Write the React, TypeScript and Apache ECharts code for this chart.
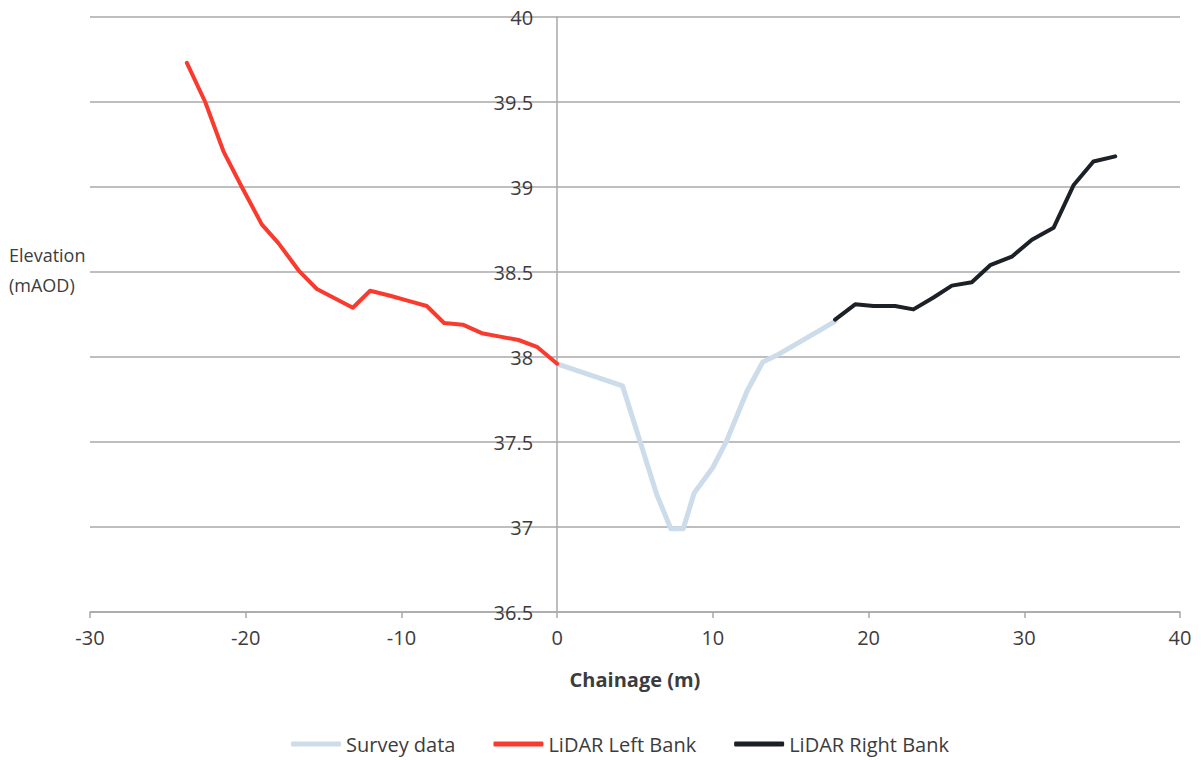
import React, { useEffect, useRef } from "react";
import * as echarts from "echarts";

// Cross-section elevations (chainage in m, elevation in mAOD)
const surveyChainage = [0, 4.2, 5.3, 6.4, 7.3, 8.1, 8.8, 10.0, 10.9, 12.2, 13.2, 14.1, 17.85];
const surveyElevation = [37.96, 37.83, 37.51, 37.19, 36.99, 36.99, 37.2, 37.35, 37.51, 37.8, 37.97, 38.01, 38.21];

const leftChainage = [-23.78, -22.6, -21.43, -20.25, -18.97, -17.9, -16.61, -15.43, -13.12, -12.01, -10.72, -9.55, -8.37, -7.26, -6.06, -4.84, -3.66, -2.48, -1.3, 0];
const leftElevation = [39.73, 39.5, 39.21, 39.0, 38.78, 38.67, 38.51, 38.4, 38.29, 38.39, 38.36, 38.33, 38.3, 38.2, 38.19, 38.14, 38.12, 38.1, 38.06, 37.96];

const rightChainage = [17.85, 19.14, 20.31, 21.7, 22.88, 24.17, 25.35, 26.63, 27.81, 29.2, 30.49, 31.88, 33.16, 34.44, 35.84];
const rightElevation = [38.22, 38.31, 38.3, 38.3, 38.28, 38.35, 38.42, 38.44, 38.54, 38.59, 38.69, 38.76, 39.01, 39.15, 39.18];

const seriesNames = ["Survey data", "LiDAR Left Bank", "LiDAR Right Bank"];
const seriesColors = ["#cddcea", "#f93b2f", "#1c2127"];

const xTitle = "Chainage (m)";
const yTitle = "Elevation\n(mAOD)";

const X_MIN = -30;
const X_MAX = 40;

const pairs = (xs: number[], ys: number[]) => xs.map((x, i) => [x, ys[i]]);

const FONT = "'Open Sans', sans-serif";
const TEXT = "#3c3c3c";
const GRID = "#a8a8a8";

const GRID_LEFT = 90;
const GRID_RIGHT = 21;
const WIDTH = 1201;

export default function App() {
  const ref = useRef<HTMLDivElement>(null);

  useEffect(() => {
    if (!ref.current) return;
    const chart = echarts.init(ref.current, undefined, { renderer: "svg" });
    const data = [
      pairs(surveyChainage, surveyElevation),
      pairs(leftChainage, leftElevation),
      pairs(rightChainage, rightElevation),
    ];
    const widths = [5, 4, 4];
    // shift the vertical axis so it crosses at chainage 0
    const plotW = WIDTH - GRID_LEFT - GRID_RIGHT;
    const zeroOffset = ((0 - X_MIN) / (X_MAX - X_MIN)) * plotW;
    chart.setOption({
      animation: false,
      backgroundColor: "#ffffff",
      textStyle: { fontFamily: FONT },
      grid: { left: GRID_LEFT, right: GRID_RIGHT, top: 17, bottom: 148, containLabel: false },
      xAxis: {
        type: "value",
        min: X_MIN,
        max: X_MAX,
        interval: 10,
        name: xTitle,
        nameLocation: "middle",
        nameGap: 57,
        nameTextStyle: { fontFamily: FONT, fontSize: 20, fontWeight: "bold", color: TEXT },
        axisLine: { onZero: false, lineStyle: { color: GRID, width: 1.5 } },
        axisTick: { show: true, length: 6, lineStyle: { color: GRID, width: 1.5 } },
        axisLabel: { margin: 15, fontFamily: FONT, fontSize: 20, color: TEXT },
        splitLine: { show: false },
      },
      yAxis: {
        type: "value",
        position: "left",
        offset: -zeroOffset,
        min: 36.5,
        max: 40,
        interval: 0.5,
        axisLine: { show: true, onZero: false, lineStyle: { color: GRID, width: 1.5 } },
        axisTick: { show: false },
        axisLabel: { margin: 24, fontFamily: FONT, fontSize: 20, color: TEXT },
        splitLine: { show: true, lineStyle: { color: GRID, width: 1.5 } },
      },
      legend: {
        left: 286,
        top: 727,
        padding: 5,
        icon: "roundRect",
        itemWidth: 50,
        itemHeight: 5,
        itemGap: 38,
        data: seriesNames,
        textStyle: { fontFamily: FONT, fontSize: 20, lineHeight: 24, color: TEXT },
      },
      graphic: [
        {
          type: "text",
          left: 9,
          top: 240,
          style: {
            text: yTitle,
            font: `18px ${FONT}`,
            fill: TEXT,
            lineHeight: 30,
          },
        },
      ],
      series: seriesNames.map((name, i) => ({
        name,
        type: "line",
        data: data[i],
        showSymbol: false,
        symbol: "none",
        color: seriesColors[i],
        lineStyle: { color: seriesColors[i], width: widths[i], cap: "round", join: "round" },
        z: 2 + i,
      })),
    });
    return () => chart.dispose();
  }, []);

  return (
    <div
      ref={ref}
      style={{ position: "absolute", left: 0, top: 0, width: WIDTH, height: 760 }}
    />
  );
}
